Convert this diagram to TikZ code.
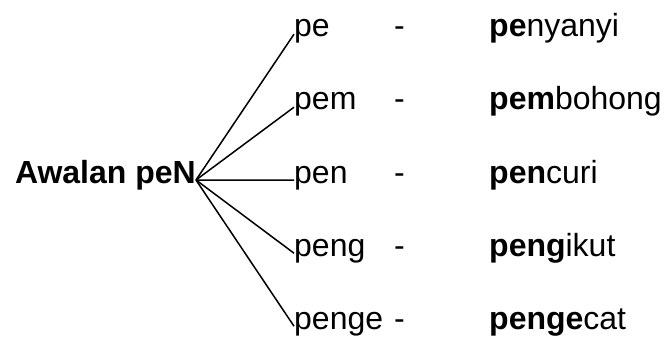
\documentclass[tikz,border=0pt]{standalone}
\usepackage{fontspec}
\setmainfont{Liberation Sans}

\begin{document}
\begin{tikzpicture}[x=1pt,y=1pt,
        word/.style={font=\fontsize{32}{38}\selectfont, inner sep=0pt, anchor=base west},
        affix/.style={word, text height=0.56em, text depth=0pt},
        root/.style={font=\fontsize{32}{38}\selectfont\bfseries, inner sep=0pt, anchor=base east, text height=0.6em, text depth=0pt}]
        \useasboundingbox (0,0) rectangle (667,338);

        \node[root] (awalan) at (196,155) {Awalan peN};

        \node[affix] (pe) at (294,301) {pe};
        \node[affix] (pem) at (294,228) {pem};
        \node[affix] (pen) at (294,155) {pen};
        \node[affix] (peng) at (294,82) {peng};
        \node[affix] (penge) at (294,9) {penge};

        \node[word] (dash1) at (394,301) {-};
        \node[word] (dash2) at (394,228) {-};
        \node[word] (dash3) at (394,155) {-};
        \node[word] (dash4) at (394,82) {-};
        \node[word] (dash5) at (394,9) {-};

        \node[word] (penyanyi) at (489,301) {\textbf{pe}nyanyi};
        \node[word] (pembohong) at (489,228) {\textbf{pem}bohong};
        \node[word] (pencuri) at (489,155) {\textbf{pen}curi};
        \node[word] (pengikut) at (489,82) {\textbf{peng}ikut};
        \node[word] (pengecat) at (489,9) {\textbf{penge}cat};

        \draw[line width=1.5pt] (awalan.east) -- (pe.west);
        \draw[line width=1.5pt] (awalan.east) -- (pem.west);
        \draw[line width=1.5pt] (awalan.east) -- (pen.west);
        \draw[line width=1.5pt] (awalan.east) -- (peng.west);
        \draw[line width=1.5pt] (awalan.east) -- (penge.west);
    \end{tikzpicture}
\end{document}
